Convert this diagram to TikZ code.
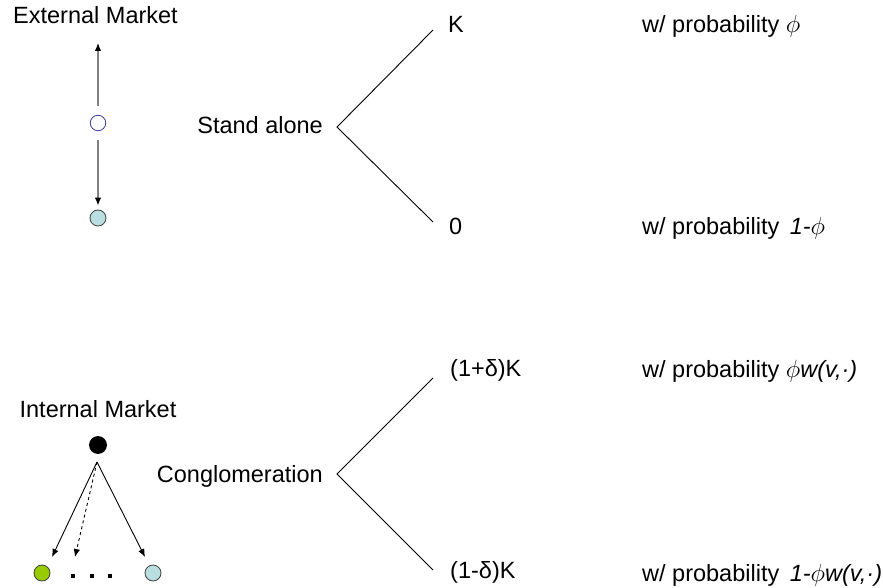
\documentclass[tikz,border=0pt]{standalone}
\usepackage{fontspec}
\setmainfont{Liberation Sans}
\usetikzlibrary{arrows.meta}
\definecolor{cyanfill}{RGB}{185,223,224}
\definecolor{greenfill}{RGB}{153,204,0}
\definecolor{hollowline}{RGB}{60,60,170}
\definecolor{linegray}{RGB}{128,128,128}
\begin{document}
\begin{tikzpicture}[x=1pt,y=-1pt,
  lbl/.style={font=\fontsize{23.5}{27}\selectfont, inner sep=0pt},
  dot/.style={circle, inner sep=0pt, minimum size=16pt, line width=0.8pt},
  hollowdot/.style={dot, draw=hollowline, fill=white, minimum size=15.5pt},
  cyandot/.style={dot, draw=black!75, fill=cyanfill},
  greendot/.style={dot, draw=black!75, fill=greenfill},
  blackdot/.style={dot, draw=black, fill=black, minimum size=17pt},
  sqdot/.style={rectangle, fill=black, inner sep=0pt, minimum size=4.5pt},
  grayarrow/.style={draw=linegray, line width=1.3pt, -{Latex[length=8pt,width=6.5pt,color=black]}},
  blackarrow/.style={draw=black, line width=0.9pt, -{Latex[length=8pt,width=6.5pt]}},
  branch/.style={draw=black, line width=0.9pt}
]
\useasboundingbox (0,0) rectangle (883,588);

% ---------- top: external market ----------
\node[lbl, anchor=base] (ext) at (95.5,24) {External Market};
\node[hollowdot] (h) at (98,123) {};
\node[cyandot] (c1) at (98,218) {};
\coordinate (up) at (98,43);
\draw[grayarrow, shorten <=8.5pt] (h) -- (up);
\draw[grayarrow, shorten <=8.5pt, shorten >=4pt] (h) -- (c1);

\node[lbl, anchor=base east] (sa) at (323,134) {Stand alone};
\coordinate (sav) at (337,127);
\coordinate (sau) at (433,30);
\coordinate (sal) at (433,222);
\draw[branch] (sau) -- (sav) -- (sal);

\node[lbl, anchor=base west] (k) at (448,33) {K};
\node[lbl, anchor=base west] (z) at (449,234) {0};
\node[lbl, anchor=base west] (p1) at (642,33) {w/ probability $\phi$};
\node[lbl, anchor=base west] (p2) at (642,234) {w/ probability \,\textit{1-}$\phi$};

% ---------- bottom: internal market ----------
\node[lbl, anchor=base] (int) at (98,417) {Internal Market};
\node[blackdot] (b) at (98,445) {};
\coordinate (apex) at (97,462);
\coordinate (tl) at (52,557);
\coordinate (tm) at (75,557);
\coordinate (tr) at (145,557);
\draw[blackarrow] (apex) -- (tl);
\draw[blackarrow, dashed] (apex) -- (tm);
\draw[blackarrow] (apex) -- (tr);
\node[greendot] (g) at (42,573) {};
\node[cyandot] (c2) at (153,573) {};
\node[sqdot] (d1) at (73,576) {};
\node[sqdot] (d2) at (92,576) {};
\node[sqdot] (d3) at (110,576) {};

\node[lbl, anchor=base east] (cg) at (323,482) {Conglomeration};
\coordinate (cgv) at (337,474);
\coordinate (cgu) at (433,378);
\coordinate (cgl) at (433,570);
\draw[branch] (cgu) -- (cgv) -- (cgl);

\node[lbl, anchor=base west] (k1) at (450,376) {(1+δ)K};
\node[lbl, anchor=base west] (k2) at (450,578) {(1-δ)K};
\node[lbl, anchor=base west] (p3) at (642,377) {w/ probability $\phi$\textit{w(v,·)}};
\node[lbl, anchor=base west] (p4) at (642,581) {w/ probability \,\textit{1-}$\phi$\textit{w(v,·)}};
\end{tikzpicture}
\end{document}
